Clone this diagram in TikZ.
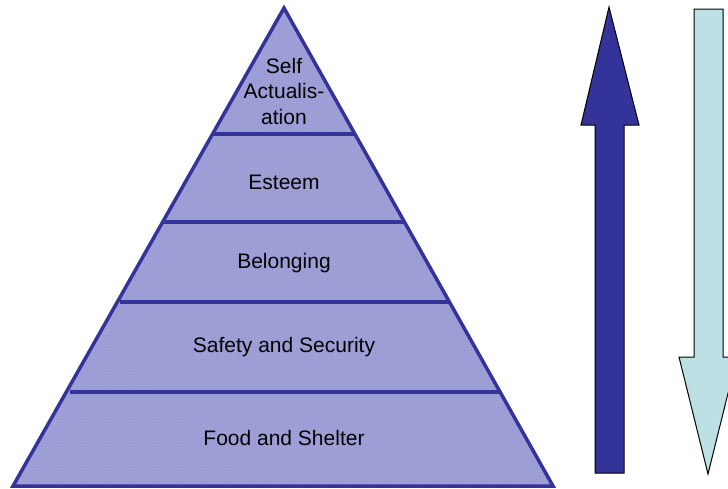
\documentclass[tikz,border=0pt]{standalone}
\usepackage{fontspec}
\setmainfont{Liberation Sans}
\usetikzlibrary{patterns}
\definecolor{pyredge}{RGB}{51,51,153}
\definecolor{pyrfill}{RGB}{160,160,216}
\definecolor{upblue}{RGB}{51,51,153}
\definecolor{downcyan}{RGB}{188,224,227}

\begin{document}
\begin{tikzpicture}[x=1pt,y=-1pt,
    level/.style={font=\fontsize{21}{25.5}\selectfont, align=center, inner sep=0pt, anchor=base},
    bar/.style={pyredge, line width=3.5pt},
    bigarrow/.style={draw=black, line width=1pt, line join=miter}]
	\useasboundingbox (0,0) rectangle (728,488);
	% pyramid
	\fill[pyrfill] (284,8) -- (553,486) -- (13,486) -- cycle;
	\fill[pattern=dots, pattern color=pyredge!60] (284,8) -- (553,486) -- (13,486) -- cycle;
	\draw[bar] (213,134) -- (355,134);
	\draw[bar] (163,222) -- (405,222);
	\draw[bar] (120,302) -- (449,302);
	\draw[bar] (70,392) -- (499,392);
	\draw[bar, line join=miter] (284,8) -- (553,486) -- (13,486) -- cycle;
	% labels
	\node[level] (self) at (284,124) {Self\\Actualis-\\ation};
	\node[level] (esteem) at (284,189.5) {Esteem};
	\node[level] (belong) at (284,268) {Belonging};
	\node[level] (safety) at (284,352) {Safety and Security};
	\node[level] (food) at (284,445) {Food and Shelter};
	% arrows
	\filldraw[bigarrow, fill=upblue] (609,7) -- (639,125) -- (624,125) -- (624,473)
		-- (595,473) -- (595,125) -- (581,125) -- cycle;
	\filldraw[bigarrow, fill=downcyan] (694,9) -- (723,9) -- (723,357) -- (737,357)
		-- (708,474) -- (679,357) -- (694,357) -- cycle;
\end{tikzpicture}
\end{document}
